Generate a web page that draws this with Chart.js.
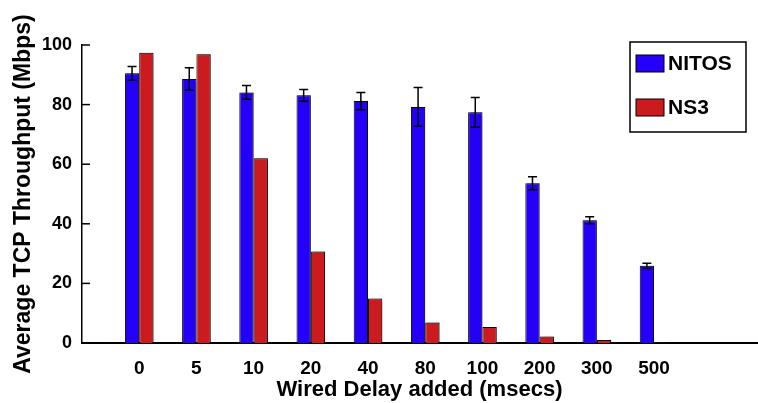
<!DOCTYPE html>
<html>
<head>
<meta charset="utf-8">
<script src="https://cdn.jsdelivr.net/npm/chart.js@4.4.1/dist/chart.umd.min.js"></script>
<style>
  html, body { margin: 0; padding: 0; background: #fff; }
  #wrap { width: 758px; height: 403px; }
</style>
</head>
<body>
<div id="wrap"><canvas id="myChart"></canvas></div>
<script>
// data
var delays = ['0', '5', '10', '20', '40', '80', '100', '200', '300', '500'];
var nitos = [90.5, 88.6, 84.1, 83.1, 81.2, 79.2, 77.4, 53.6, 41.2, 25.9];
var nitosErr = [2.3, 3.8, 2.3, 2.0, 2.9, 6.5, 5.0, 2.2, 1.2, 0.9];
var ns3 = [97.4, 96.9, 62.0, 30.7, 14.9, 6.9, 5.4, 2.2, 1.0, 0.2];
var yTicks = [0, 20, 40, 60, 80, 100];

var blue = '#2500f8';
var red = '#cc1b1f';
var fontFam = '"Liberation Sans", Arial, sans-serif';

// error bars, inward y ticks, legend box
var extras = {
    id: 'extras',
    beforeDatasetsDraw: function (chart) {
        var ctx = chart.ctx;
        ctx.save();
        ctx.shadowColor = 'rgba(0,0,0,0.35)';
        ctx.shadowOffsetX = 2;
        ctx.shadowOffsetY = 0;
        ctx.shadowBlur = 1;
    },
    afterDatasetsDraw: function (chart) {
        var ctx = chart.ctx;
        ctx.restore();
        var y = chart.scales.y;
        var meta = chart.getDatasetMeta(0);
        ctx.save();
        ctx.strokeStyle = '#000';
        ctx.lineWidth = 1.5;
        meta.data.forEach(function (bar, i) {
            var top = y.getPixelForValue(nitos[i] + nitosErr[i]);
            var bot = y.getPixelForValue(nitos[i] - nitosErr[i]);
            ctx.beginPath();
            ctx.moveTo(bar.x, top); ctx.lineTo(bar.x, bot);
            ctx.moveTo(bar.x - 4.5, top); ctx.lineTo(bar.x + 4.5, top);
            ctx.moveTo(bar.x - 4.5, bot); ctx.lineTo(bar.x + 4.5, bot);
            ctx.stroke();
        });
        ctx.restore();
    },
    afterDraw: function (chart) {
        var ctx = chart.ctx;
        var a = chart.chartArea;
        var y = chart.scales.y;
        ctx.save();
        ctx.strokeStyle = '#000';
        ctx.lineWidth = 1.5;
        yTicks.forEach(function (t) {
            var py = y.getPixelForValue(t);
            ctx.beginPath();
            ctx.moveTo(a.left, py); ctx.lineTo(a.left + 8, py);
            ctx.stroke();
        });
        // legend
        ctx.lineWidth = 1.5;
        ctx.strokeRect(630, 42, 116, 90);
        ctx.font = 'bold 21px ' + fontFam;
        ctx.textBaseline = 'middle';
        chart.data.datasets.forEach(function (ds, i) {
            var sy = 55 + i * 44;
            ctx.fillStyle = ds.backgroundColor;
            ctx.fillRect(636, sy, 28, 17);
            ctx.lineWidth = 1;
            ctx.strokeRect(636, sy, 28, 17);
            ctx.fillStyle = '#000';
            ctx.fillText(ds.label, 668, sy + 9);
        });
        ctx.restore();
    }
};

var ctx = document.getElementById('myChart').getContext('2d');
var chart = new Chart(ctx, {
    type: 'bar',
    data: {
        datasets: [{
            label: 'NITOS',
            backgroundColor: blue,
            borderColor: '#000',
            borderWidth: 1,
            data: nitos.map(function (v, i) { return { x: i, y: v }; })
        }, {
            label: 'NS3',
            backgroundColor: red,
            borderColor: '#000',
            borderWidth: 1,
            data: ns3.map(function (v, i) { return { x: i, y: v }; })
        }]
    },
    options: {
        responsive: true,
        maintainAspectRatio: false,
        animation: false,
        categoryPercentage: 0.5,
        barPercentage: 1.0,
        layout: { padding: { top: 45, right: 1, left: 0, bottom: 0 } },
        plugins: {
            legend: { display: false },
            tooltip: { enabled: false }
        },
        scales: {
            x: {
                type: 'linear',
                min: -1,
                max: 10.8,
                offset: false,
                afterBuildTicks: function (axis) {
                    axis.ticks = delays.map(function (d, i) { return { value: i }; });
                },
                afterFit: function (axis) { axis.height = 60; },
                grid: { display: false, offset: false, drawTicks: false },
                border: { display: true, color: '#000', width: 2 },
                ticks: {
                    color: '#000',
                    padding: 14,
                    maxRotation: 0,
                    font: { family: fontFam, weight: 'bold', size: 19 },
                    callback: function (v) { return delays[v]; }
                },
                title: {
                    display: true,
                    text: 'Wired Delay added (msecs)',
                    color: '#000',
                    padding: { top: 0, bottom: 0 },
                    font: { family: fontFam, weight: 'bold', size: 22 }
                }
            },
            y: {
                min: 0,
                max: 100,
                afterBuildTicks: function (axis) {
                    axis.ticks = yTicks.map(function (t) { return { value: t }; });
                },
                afterFit: function (axis) { axis.width = 82; },
                grid: { display: false, drawTicks: false },
                border: { display: true, color: '#000', width: 1.5 },
                ticks: {
                    color: '#000',
                    padding: 10,
                    font: { family: fontFam, weight: 'bold', size: 18 }
                },
                title: {
                    display: true,
                    text: 'Average TCP Throughput (Mbps)',
                    color: '#000',
                    padding: { top: 10, bottom: 0 },
                    font: { family: fontFam, weight: 'bold', size: 23 }
                }
            }
        }
    },
    plugins: [extras]
});
</script>
</body>
</html>
